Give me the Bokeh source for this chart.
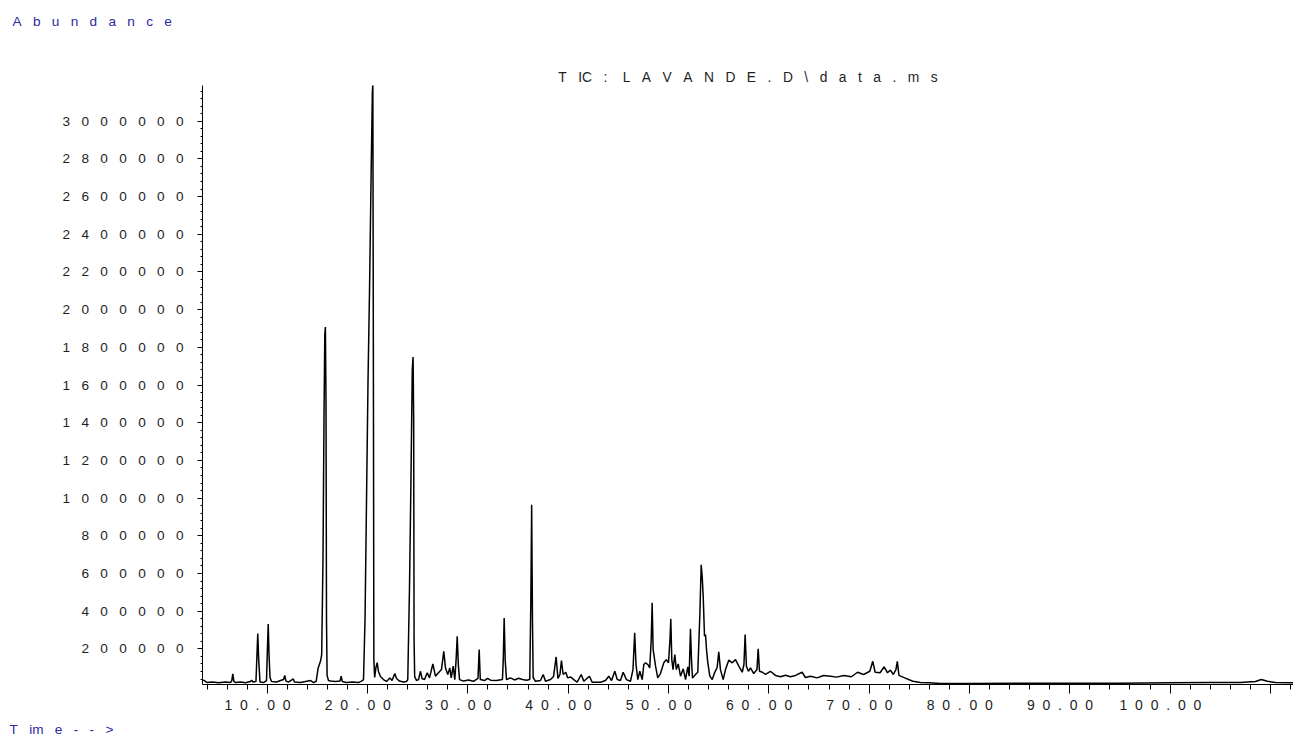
from bokeh.plotting import figure
from bokeh.models import Range1d, Title, FixedTicker
from bokeh.embed import file_html
from bokeh.resources import INLINE

NB = "\u00a0"

def spaced(units, n=3):
    return (NB * n).join(units)

# ---- data (time in minutes, abundance in counts) ----
time_min = [
    3.62, 3.98, 4.55, 5.15, 5.84, 6.34, 6.47, 6.57, 6.67, 6.84, 7.34, 7.84, 8.34, 8.44, 8.58, 8.88,
    8.98, 9.06, 9.15, 9.28, 9.63, 9.93, 10.02, 10.10, 10.18, 10.28, 10.43, 10.93, 11.33, 11.63, 11.75,
    11.87, 12.12, 12.59, 12.72, 13.32, 13.82, 14.32, 14.62, 14.88, 15.08, 15.31, 15.43, 15.56, 15.66,
    15.74, 15.80, 15.86, 15.91, 15.97, 16.11,
    16.31, 16.81, 17.26, 17.37, 17.48, 17.90, 18.50, 19.10, 19.40, 19.60, 19.75, 19.90, 20.05, 20.20,
    20.35, 20.48, 20.53, 20.59, 20.63, 20.71, 20.84, 20.96, 21.09, 21.29, 21.59, 21.89, 22.22, 22.44,
    22.72, 22.89, 23.19, 23.58, 23.88, 24.01, 24.18, 24.33, 24.46, 24.54, 24.60, 24.64, 24.70, 24.88,
    25.08, 25.28, 25.43, 25.68, 25.95, 26.18, 26.51, 26.77, 27.07, 27.37, 27.60, 27.77, 28.00, 28.20,
    28.34, 28.54, 28.70, 28.83, 28.94, 29.05, 29.17, 29.57, 30.06, 30.56, 31.01, 31.13, 31.24, 31.66,
    31.96, 32.26, 32.85, 33.45, 33.53, 33.62, 33.72, 33.85, 34.25, 34.65, 35.05, 35.45, 35.85, 36.17,
    36.28, 36.36, 36.44, 36.51,
    36.74, 37.24, 37.51, 37.74, 38.24, 38.54, 38.80, 38.98, 39.18, 39.33, 39.50, 39.76, 39.96, 40.23,
    40.56, 40.90, 41.30, 41.56, 42.12, 42.39, 43.22, 43.72, 44.05, 44.32, 44.65, 44.89, 45.21, 45.48,
    45.81, 46.21, 46.46, 46.63, 46.76, 46.94,
    47.14, 47.38, 47.54, 47.71, 47.94, 48.13, 48.28, 48.37, 48.47, 48.71, 48.93, 49.20, 49.53, 49.77,
    50.00, 50.15, 50.23, 50.33, 50.45, 50.63, 50.78, 50.97, 51.20, 51.47, 51.70, 51.92, 52.06, 52.19,
    52.29, 52.39, 52.69, 52.92, 53.12, 53.26, 53.36, 53.46, 53.59, 53.69, 53.79, 53.92, 54.12, 54.36,
    54.59, 54.85, 55.01, 55.18, 55.45, 55.68, 56.01, 56.35, 56.68, 57.01, 57.35, 57.52, 57.64, 57.77,
    57.97, 58.17, 58.50, 58.82, 58.94, 59.07, 59.37, 59.67, 60.16, 60.66, 61.16, 61.66, 62.16, 62.66,
    63.32, 63.65, 64.15, 64.82, 65.45, 66.18, 66.74, 67.47, 68.24, 68.84, 69.45, 70.07, 70.36, 70.60,
    71.09, 71.50, 71.83, 72.12, 72.41, 72.67, 72.81, 72.97, 73.54, 74.36, 75.11, 76.00, 77.11, 80.0,
    85.0, 90.0, 95.0, 100.0, 104.0, 107.0, 108.5, 109.1, 109.7, 110.5, 112.3,
]
abundance = [
    36000, 22000, 24000, 20000, 24000, 21000, 32000, 67000, 29000, 21000, 24000, 20000, 27000, 34000, 24000, 27000,
    170000, 281000, 143000, 24000, 21000, 32000, 196000, 332000, 170000, 48000, 27000, 24000, 32000, 37000, 59000,
    29000, 24000, 41000, 24000, 21000, 27000, 32000, 21000, 28000, 99000, 134000, 170000, 673000, 1415000,
    1866000, 1908000, 1521000, 355000, 58000, 32000,
    29000, 27000, 29000, 55000, 27000, 21000, 24000, 21000, 29000, 37000, 355000, 991000, 1627000, 2104000,
    2687000, 3150000, 3200000, 1521000, 143000, 48000, 101000, 127000, 80000, 53000, 37000, 27000, 46000, 32000,
    69000, 43000, 29000, 24000, 27000, 37000, 514000, 1097000, 1680000, 1749000, 1415000, 249000, 53000, 32000,
    37000, 81000, 43000, 37000, 73000, 46000, 120000, 55000, 73000, 90000, 187000, 99000, 64000, 99000,
    46000, 108000, 37000, 143000, 267000, 117000, 37000, 29000, 35000, 28000, 43000, 196000, 37000, 32000,
    43000, 34000, 32000, 37000, 143000, 364000, 143000, 37000, 46000, 35000, 44000, 37000, 34000, 37000,
    461000, 964000, 355000, 48000,
    28000, 32000, 64000, 28000, 37000, 53000, 157000, 43000, 64000, 138000, 64000, 76000, 46000, 51000,
    37000, 23000, 64000, 28000, 55000, 23000, 23000, 32000, 55000, 32000, 81000, 37000, 32000, 76000,
    37000, 28000, 90000, 285000, 117000, 37000,
    81000, 37000, 117000, 126000, 117000, 99000, 249000, 444000, 196000, 108000, 46000, 69000, 126000, 143000,
    126000, 249000, 359000, 143000, 90000, 170000, 90000, 120000, 55000, 94000, 37000, 104000, 55000, 306000,
    143000, 46000, 64000, 76000, 373000, 646000, 584000, 478000, 267000, 276000, 196000, 126000, 55000, 37000,
    73000, 101000, 184000, 90000, 37000, 90000, 140000, 126000, 143000, 108000, 76000, 117000, 276000, 106000,
    81000, 99000, 69000, 90000, 200000, 81000, 76000, 64000, 81000, 59000, 52000, 60000, 52000, 59000,
    76000, 48000, 55000, 46000, 59000, 55000, 50000, 59000, 52000, 76000, 64000, 81000, 134000, 76000,
    73000, 105000, 73000, 87000, 64000, 90000, 134000, 59000, 46000, 28000, 21000, 20000, 16000, 16000,
    17000, 17000, 18000, 20000, 21000, 22000, 27000, 37000, 28000, 21000, 20000,
]

# ---- axis ticks ----
y_major = [200000 * i for i in range(1, 16)]
y_minor = [40000 * i for i in range(1, 80)]
x_major = [10, 20, 30, 40, 50, 60, 70, 80, 90, 100, 110]
x_minor = [2 * i for i in range(2, 57)]
x_labels = ["10.00", "20.00", "30.00", "40.00", "50.00", "60.00", "70.00", "80.00", "90.00", "100.00", ""]

title_units = ["T", "IC", ":" + NB, "L", "A", "V", "A", "N", "D", "E", ".", "D", "\\", "d", "a", "t", "a", ".", "m", "s"]
y_title_units = ["A", "b", "u", "n", "d", "a", "n", "c", "e"]
x_title_units = ["T", "im", "e", "-", "-", ">"]

FONT = "Liberation Sans"
TXT = "#1e1e1e"
BLUE = "#2a2aa0"

p = figure(width=1293, height=740, output_backend="svg", toolbar_location=None,
           x_range=Range1d(3.55, 112.3), y_range=Range1d(10900, 3189200),
           min_border_left=202, min_border_right=0, min_border_top=85, min_border_bottom=55)
p.outline_line_color = None
p.grid.visible = False
p.background_fill_color = "white"
p.border_fill_color = "white"

p.line(time_min, abundance, line_color="black", line_width=1.5)

xa = p.xaxis[0]
xa.ticker = FixedTicker(ticks=x_major, minor_ticks=x_minor)
xa.major_label_overrides = {t: (spaced(list(s), 2) + NB * 5 if s else "") for t, s in zip(x_major, x_labels)}
xa.major_tick_out = 9
xa.major_tick_in = 0
xa.minor_tick_out = 5
xa.minor_tick_in = 0
xa.major_label_standoff = 3
xa.major_label_text_font = FONT
xa.major_label_text_font_size = "14px"
xa.major_label_text_color = TXT
xa.axis_line_color = "black"
xa.major_tick_line_color = "black"
xa.minor_tick_line_color = "black"

ya = p.yaxis[0]
ya.ticker = FixedTicker(ticks=y_major, minor_ticks=y_minor)
ya.major_label_overrides = {v: spaced(list(str(v)), 3) for v in y_major}
ya.major_tick_out = 5
ya.major_tick_in = 0
ya.minor_tick_out = 2
ya.minor_tick_in = 0
ya.major_label_standoff = 14
ya.major_label_text_font = FONT
ya.major_label_text_font_size = "13.6px"
ya.major_label_text_color = TXT
ya.axis_line_color = "black"
ya.major_tick_line_color = "black"
ya.minor_tick_line_color = "black"

# chart title, nearest the frame
p.add_layout(Title(text=spaced(title_units, 3), text_font=FONT, text_font_size="13.8px",
                   text_font_style="normal", text_color=TXT, align="center",
                   vertical_align="bottom", standoff=2), "above")
# spacer between the title and the caption
p.add_layout(Title(text=NB, text_font=FONT, text_font_size="14px", standoff=18), "above")
# blue y-axis caption at the top left (outermost)
p.title.text = spaced(y_title_units, 3)
p.title.text_font = FONT
p.title.text_font_size = "13.6px"
p.title.text_font_style = "normal"
p.title.text_color = BLUE
p.title.align = "left"
p.title.offset = -190
p.title.vertical_align = "top"
p.title.standoff = 0

# blue x-axis caption at the bottom left
p.add_layout(Title(text=spaced(x_title_units, 3), text_font=FONT, text_font_size="13.6px",
                   text_font_style="normal", text_color=BLUE, align="left", offset=-193,
                   vertical_align="bottom", standoff=8), "below")

open("out.html", "w").write(file_html(p, INLINE))
